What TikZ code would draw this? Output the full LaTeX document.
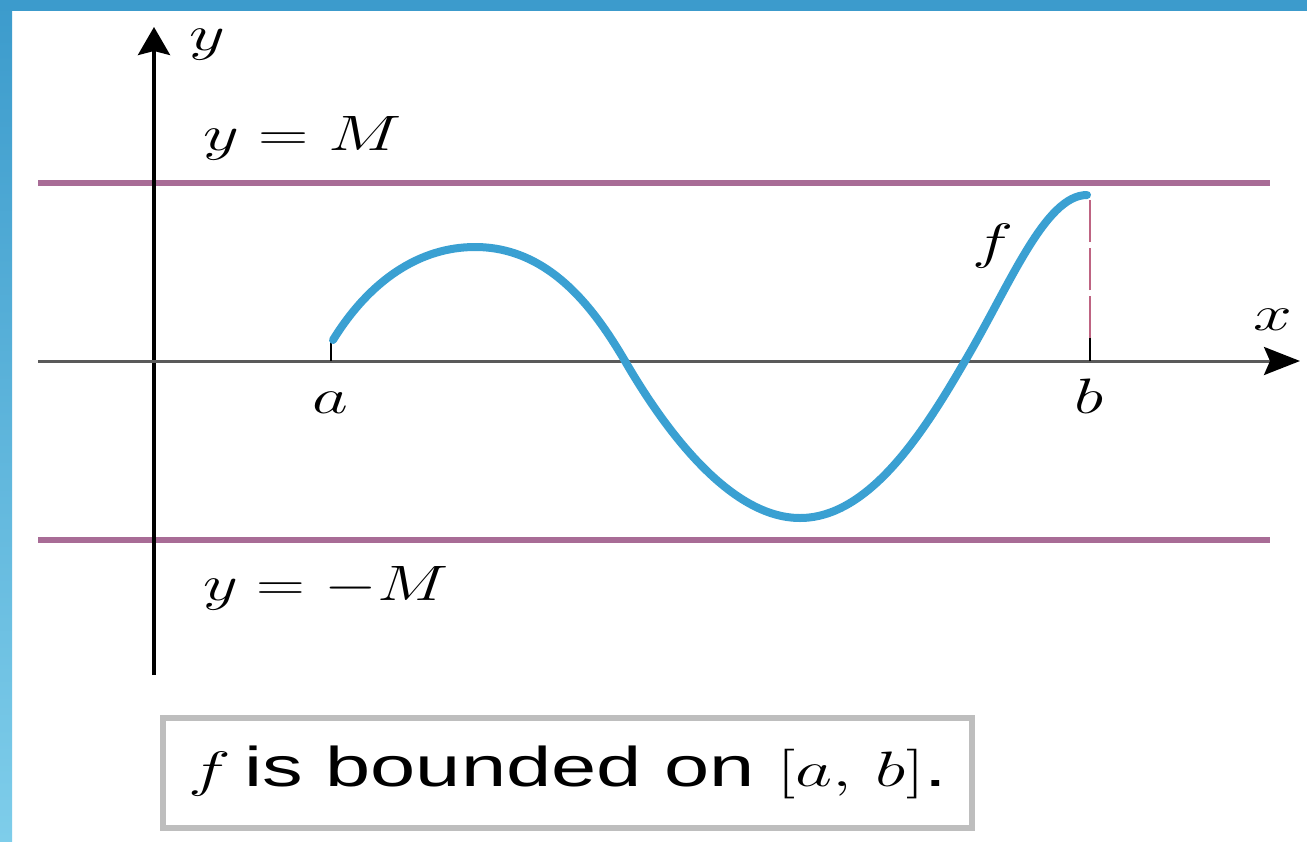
\documentclass[tikz,border=0pt]{standalone}
\usepackage{graphicx}
\usepackage{fontspec}
\newfontfamily\arialf{Liberation Sans}
\usetikzlibrary{arrows.meta}
\newcommand{\widetxt}[1]{\scalebox{1.4}[1]{#1}}
\definecolor{bandtop}{RGB}{60,155,204}
\definecolor{bandbot}{RGB}{126,205,234}
\definecolor{boundc}{RGB}{168,108,150}
\definecolor{dashc}{RGB}{190,100,130}
\definecolor{curvec}{RGB}{58,160,210}
\definecolor{boxc}{RGB}{190,190,190}
\definecolor{xaxc}{RGB}{90,90,90}
\tikzset{
  lbl/.style={inner sep=0pt, anchor=base, font=\fontsize{27}{30}\selectfont},
  bound/.style={boundc, line width=2.6pt},
  tickm/.style={black, line width=1.4pt},
}
\begin{document}
\begin{tikzpicture}[x=0.5pt,y=-0.5pt]
\useasboundingbox (0,0) rectangle (1307,841);
\fill[white] (0,0) rectangle (1307,841);
% frame bands
\shade[top color=bandtop, bottom color=bandbot] (0,0) rectangle (12,841);
\fill[bandtop] (0,0) rectangle (1307,11);
% bounds
\coordinate (mL) at (38,183); \coordinate (mR) at (1270,183);
\coordinate (nL) at (38,540); \coordinate (nR) at (1270,540);
\draw[bound] (mL) -- (mR);
\draw[bound] (nL) -- (nR);
% axes
\coordinate (yb) at (154,675); \coordinate (yt) at (154,27);
\coordinate (xl) at (38,361); \coordinate (xr) at (1300,361);
\draw[black, line width=1.8pt, -{Stealth[length=14pt,width=16pt,inset=2pt]}] (yb) -- (yt);
\draw[xaxc, line width=1.5pt, -{Stealth[length=18pt,width=14pt,inset=3pt,color=black]}] (xl) -- (xr);
% ticks and dashed line
\coordinate (a0) at (331,361); \coordinate (a1) at (331,340);
\coordinate (b0) at (1090,361); \coordinate (b1) at (1090,338); \coordinate (b2) at (1090,197);
\draw[tickm] (a0) -- (a1);
\draw[dashc, line width=1.3pt, dash pattern=on 21pt off 3pt] (b1) -- (b2);
\draw[tickm] (b0) -- (b1);
% curve
\draw[curvec, line width=4pt, line cap=round]
  (333,340) .. controls (370,280) and (420,247) .. (475,247)
            .. controls (550,247) and (595,310) .. (625,361)
            .. controls (665,430) and (730,518) .. (800,518)
            .. controls (870,518) and (925,430) .. (965,361)
            .. controls (1010,285) and (1045,195) .. (1087,195);
% labels
\node[lbl] (ly) at (207,50) {\widetxt{$y$}};
\node[lbl] (lx) at (1273,330) {\widetxt{$x$}};
\node[lbl] (la) at (330,413) {\widetxt{$a$}};
\node[lbl] (lb) at (1089,413) {\widetxt{$b$}};
\node[lbl] (lf) at (993,258) {\widetxt{$f$}};
\node[lbl, anchor=base west] (lM) at (203,150) {\widetxt{$y = M$}};
\node[lbl, anchor=base west] (lnM) at (203,600) {\scalebox{1.36}[1]{$y = -M$}};
% box
\node[draw=boxc, line width=3pt, minimum width=404.5pt, minimum height=55pt, inner sep=0pt,
      font=\fontsize{28}{30}\selectfont\arialf] (box) at (567.5,772.5)
  {\scalebox{1.45}[1]{$f$\,is bounded on $[a,\, b]$.}};
\end{tikzpicture}
\end{document}
